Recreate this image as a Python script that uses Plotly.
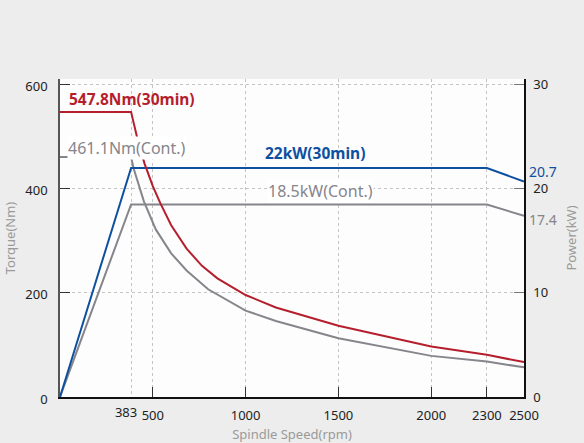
import plotly.graph_objects as go

# ---- data ----
torque_30min_rpm = [0, 383, 420, 456, 500, 541, 599, 682, 765, 848, 1000, 1163, 1500, 1743, 2000, 2300, 2500]
torque_30min = [547.8, 547.8, 492, 448, 405, 372, 330, 285, 252, 228, 196, 172, 137, 117, 97, 81, 67]

torque_cont_rpm = [0, 383, 396, 428, 452, 516, 599, 682, 798, 1000, 1163, 1500, 1743, 2000, 2300, 2500]
torque_cont = [461.1, 461.1, 440, 402, 376, 322, 276, 243, 207, 166, 146, 113, 96, 79, 68, 57]

power_rpm = [0, 383, 2300, 2500]
power_30min = [0, 22, 22, 20.7]
power_cont = [0, 18.5, 18.5, 17.4]

x_ticks = [500, 1000, 1500, 2000, 2300, 2500]
x_ticks_base = [383]
y_ticks = [0, 200, 400, 600]
y2_ticks = [0, 10, 20, 30]
x_range = [0, 2500]

RED = "#b51f2d"
BLUE = "#0e50a0"
GRAY = "#85858b"
FONT = "Noto Sans"

fig = go.Figure()
fig.add_trace(go.Scatter(x=power_rpm, y=power_cont, yaxis="y2", mode="lines",
                         line=dict(color=GRAY, width=2), hoverinfo="skip"))
fig.add_trace(go.Scatter(x=torque_cont_rpm, y=torque_cont, mode="lines",
                         line=dict(color=GRAY, width=2), hoverinfo="skip"))
fig.add_trace(go.Scatter(x=power_rpm, y=power_30min, yaxis="y2", mode="lines",
                         line=dict(color=BLUE, width=2), hoverinfo="skip"))
fig.add_trace(go.Scatter(x=torque_30min_rpm, y=torque_30min, xaxis="x2", yaxis="y", mode="lines",
                         line=dict(color=RED, width=2), hoverinfo="skip"))

anns = [
    dict(x=40, y=572, xref="x", yref="y", text="<b>547.8Nm(30min)</b>", xanchor="left",
         font=dict(color=RED, size=15.5, family=FONT)),
    dict(x=36, y=479, xref="x", yref="y", text="461.1Nm(Cont.)", xanchor="left",
         font=dict(color=GRAY, size=16, family=FONT), bgcolor="white", borderpad=0),
    dict(x=1375, y=469, xref="x", yref="y", text="<b>22kW(30min)</b>", xanchor="center",
         font=dict(color=BLUE, size=15.5, family=FONT)),
    dict(x=1405, y=396, xref="x", yref="y", text="18.5kW(Cont.)", xanchor="center",
         font=dict(color=GRAY, size=16, family=FONT), bgcolor="white", borderpad=0),
    dict(x=2500, y=power_30min[-1], xref="x", yref="y2", text="20.7", xanchor="left", xshift=3, yshift=10,
         font=dict(color=BLUE, size=14, family=FONT)),
    dict(x=2500, y=power_cont[-1], xref="x", yref="y2", text="17.4", xanchor="left", xshift=3, yshift=-4,
         font=dict(color=GRAY, size=14, family=FONT)),
]
for a in anns:
    a["showarrow"] = False
fig.update_layout(annotations=anns)

grid = dict(showgrid=True, gridcolor="#c4c4c4", griddash="dot", gridwidth=1)
title_font = dict(color="#9a9a9a", size=13, family=FONT)

fig.update_layout(
    width=584, height=443,
    margin=dict(l=60, r=60, t=79, b=46),
    paper_bgcolor="#ecedec",
    plot_bgcolor="#fdfdfd",
    showlegend=False,
    font=dict(family=FONT, color="#222222", size=13),
    xaxis=dict(range=x_range, tickvals=x_ticks, tickangle=0,
               ticks="inside", ticklen=10, tickcolor="#333333",
               showline=True, linecolor="#111111", linewidth=1.5,
               zeroline=False, ticklabelstandoff=6, automargin=False,
               title=dict(text="Spindle Speed(rpm)", font=title_font, standoff=13),
               **grid),
    xaxis2=dict(range=x_range, tickvals=x_ticks_base, tickangle=0, overlaying="x",
                side="bottom", anchor="y", ticks="", showline=False,
                zeroline=False, ticklabelstandoff=6, ticklabelshift=-5, automargin=False,
                **grid),
    yaxis=dict(range=[0, 611], tickvals=y_ticks,
               ticks="inside", ticklen=10, tickcolor="#333333",
               showline=True, linecolor="#555555", linewidth=1.5,
               zeroline=False, ticklabelstandoff=8, ticklabelshift=2, automargin=False,
               title=dict(text="Torque(Nm)", font=title_font, standoff=7),
               **grid),
    yaxis2=dict(range=[0, 611 / 20], tickvals=y2_ticks, overlaying="y", side="right",
                ticks="inside", ticklen=10, tickcolor="#777777",
                showline=True, linecolor="#111111", linewidth=1.5,
                showgrid=False, zeroline=False, ticklabelstandoff=5, ticklabelshift=0,
                automargin=False,
                title=dict(text="Power(kW)", font=title_font, standoff=20)),
)

fig.write_html("out.html", config={"displayModeBar": False},
               post_script="document.body.style.margin='0';")
